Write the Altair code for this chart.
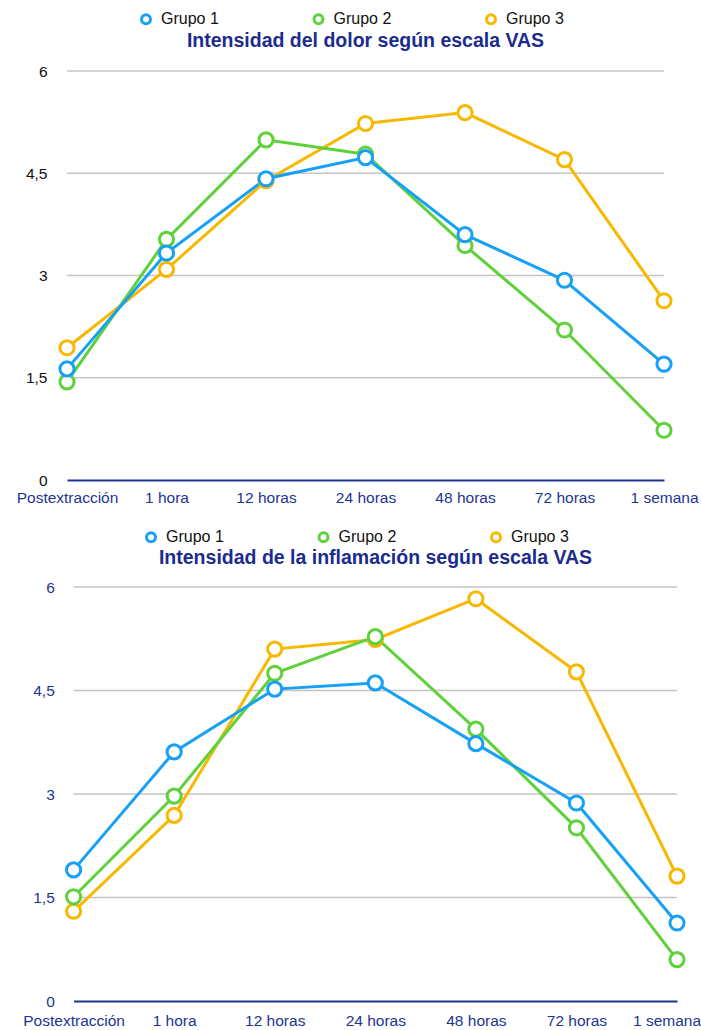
import altair as alt
import pandas as pd

FONT = "Liberation Sans"

times = ["Postextracción", "1 hora", "12 horas", "24 horas", "48 horas", "72 horas", "1 semana"]
groups = ["Grupo 1", "Grupo 2", "Grupo 3"]
colors = ["#16A0F6", "#5FD13A", "#F8B800"]

dolor_g1 = [1.63, 3.33, 4.42, 4.73, 3.60, 2.93, 1.70]
dolor_g2 = [1.44, 3.53, 4.99, 4.78, 3.44, 2.20, 0.73]
dolor_g3 = [1.94, 3.09, 4.39, 5.23, 5.39, 4.70, 2.63]

infl_g1 = [1.90, 3.61, 4.52, 4.61, 3.73, 2.87, 1.13]
infl_g2 = [1.51, 2.97, 4.75, 5.28, 3.94, 2.51, 0.60]
infl_g3 = [1.30, 2.69, 5.10, 5.24, 5.83, 4.77, 1.81]

y_ticks = [0, 1.5, 3, 4.5, 6]

title_dolor = "Intensidad del dolor según escala VAS"
title_infl = "Intensidad de la inflamación según escala VAS"

NAVY = "#1D3591"
TITLE_COLOR = "#1B2C8E"
GRID = "#C4C4C4"


def make_df(series):
    rows = []
    # draw order: Grupo 3 first, Grupo 1 last (on top)
    for g, vals in zip(groups[::-1], series[::-1]):
        for t, v in zip(times, vals):
            rows.append({"tiempo": t, "grupo": g, "valor": v})
    return pd.DataFrame(rows)


def build(title, series, width, height, x_start, ylab_color, ylab_pad, xlab_pad,
          legend_x, legend_y, title_dx, title_dy, last_label_shift):
    df = make_df(series)
    x_scale = alt.Scale(type="point", padding=0, range=[x_start, width])
    x = alt.X("tiempo:N", sort=times, scale=x_scale,
              axis=alt.Axis(title=None, labelAngle=0, ticks=False, tickSize=0,
                            domainColor=NAVY, domainWidth=2, grid=False,
                            labelColor=NAVY, labelFont=FONT, labelFontSize=15.5,
                            labelPadding=xlab_pad,
                            labelOffset={"condition": {"test": "datum.value == '1 semana'",
                                                       "value": last_label_shift},
                                         "value": 0}))
    y = alt.Y("valor:Q", scale=alt.Scale(domain=[0, 6], nice=False),
              axis=alt.Axis(title=None, values=y_ticks, domain=False, ticks=False,
                            tickSize=0, grid=False,
                            labelExpr="replace(toString(datum.value), '.', ',')",
                            labelColor=ylab_color, labelFont=FONT,
                            labelFontSize=15.5, labelPadding=ylab_pad))
    color_scale = alt.Scale(domain=groups, range=colors)
    legend = alt.Legend(orient="none", legendX=legend_x, legendY=legend_y,
                        direction="horizontal", title=None, symbolType="circle",
                        symbolSize=80, symbolStrokeWidth=3,
                        symbolFillColor="white", labelFont=FONT, labelFontSize=16,
                        labelColor="#111111", labelOffset=7, columnPadding=88.5,
                        padding=0)
    color = alt.Color("grupo:N", scale=color_scale, legend=legend)

    grid_df = pd.DataFrame({"v": y_ticks[1:]})
    grid = alt.Chart(grid_df).mark_rule(color=GRID, strokeWidth=1.5).encode(
        y=alt.Y("v:Q", scale=alt.Scale(domain=[0, 6], nice=False)),
        x=alt.value(x_start), x2=alt.value(width))

    line = alt.Chart(df).mark_line(strokeWidth=3).encode(x=x, y=y, color=color)

    pts = alt.Chart(df).mark_point(shape="circle", size=200, strokeWidth=3,
                                   fill="white", fillOpacity=1, opacity=1,
                                   filled=False).encode(x=x, y=y, color=color)

    return alt.layer(grid, line, pts).properties(
        width=width, height=height,
        title=alt.TitleParams(title, font=FONT, fontSize=19.5, fontWeight="bold",
                              color=TITLE_COLOR, anchor="middle", frame="group",
                              offset=0, dx=title_dx, dy=title_dy))


top = build(title_dolor, [dolor_g1, dolor_g2, dolor_g3], 597, 409, 0,
            "#111111", 20, 10, 71, -60, 0, 40, 0)
bottom = build(title_infl, [infl_g1, infl_g2, infl_g3], 610, 414, 6.6,
               NAVY, 12.7, 12, 76, -58, 3.5, 39.7, -10.5)

chart = alt.vconcat(top, bottom, spacing=23).resolve_scale(
    color="independent").resolve_legend(color="independent").properties(
    padding={"left": 16, "top": 11, "right": 0, "bottom": 0},
    background="white",
).configure_view(stroke=None)

chart.save("out.html", embed_options={"renderer": "svg", "actions": False})
